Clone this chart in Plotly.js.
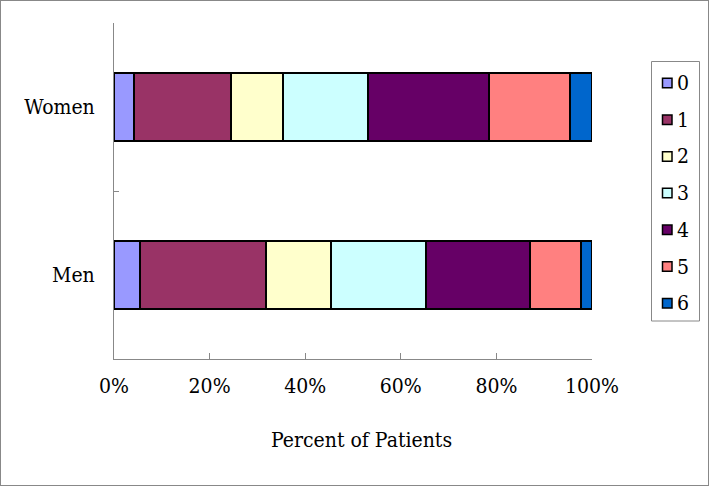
<!DOCTYPE html>
<html>
<head>
<meta charset="utf-8">
<script src="https://cdn.plot.ly/plotly-3.0.1.min.js"></script>
<style>
html,body{margin:0;padding:0;background:#fff;}
#wrap{position:relative;width:710px;height:486px;}
#chart{width:710px;height:486px;}
#frame{position:absolute;left:0;top:0;width:707px;height:484px;border:1px solid #888;pointer-events:none;}
</style>
</head>
<body>
<div id="wrap"><div id="chart"></div><div id="frame"></div></div>
<script>
const groups = ['Men', 'Women'];
const seriesNames = ['0', '1', '2', '3', '4', '5', '6'];
const men   = [5.5, 26.2, 13.7, 19.9, 21.7, 10.8, 2.2];
const women = [4.2, 20.3, 10.9, 17.8, 25.2, 17.1, 4.5];
const colors = ['#9999FF', '#993366', '#FFFFCC', '#CCFFFF', '#660066', '#FF8080', '#0066CC'];
const xTicks = [0, 20, 40, 60, 80, 100];
const xTitle = 'Percent of Patients';

const font = '"DejaVu Serif Condensed", "DejaVu Serif"';
const fs = 21;
const traces = seriesNames.map((name, i) => ({
  type: 'bar',
  orientation: 'h',
  name: name,
  y: groups,
  x: [men[i], women[i]],
  marker: {color: colors[i], line: {color: '#000', width: 2}},
  hoverinfo: 'x+y+name',
  showlegend: false
}));

// plot-area geometry (pixels), used to place the legend box and axis title
const W = 710, H = 486, ML = 114, MR = 118, MT = 23, MB = 127;
const pw = W - ML - MR, ph = H - MT - MB;
const px = v => (v - ML) / pw;
const py = v => (H - MB - v) / ph;

const shapes = [{
  type: 'rect', xref: 'paper', yref: 'paper',
  x0: px(651.5), x1: px(699.5), y0: py(61.5), y1: py(321),
  line: {color: '#888', width: 1}, fillcolor: '#fff', layer: 'above'
}];
const annotations = [{
  xref: 'paper', yref: 'paper', x: px(361.5), y: py(440),
  xanchor: 'center', yanchor: 'middle', showarrow: false,
  text: xTitle, font: {family: font, size: fs, color: '#000'}
}];
seriesNames.forEach((name, i) => {
  const cy = 83 + i * 36.7;
  shapes.push({
    type: 'rect', xref: 'paper', yref: 'paper',
    x0: px(662.5), x1: px(672), y0: py(cy + 4.75), y1: py(cy - 4.75),
    line: {color: '#000', width: 1.5}, fillcolor: colors[i], layer: 'above'
  });
  annotations.push({
    xref: 'paper', yref: 'paper', x: px(675), y: py(cy),
    xanchor: 'left', yanchor: 'middle', showarrow: false,
    text: name, font: {family: font, size: fs, color: '#000'}
  });
});

const layout = {
  width: W, height: H,
  margin: {l: ML, r: MR, t: MT, b: MB, pad: 0},
  paper_bgcolor: '#fff', plot_bgcolor: '#fff',
  barmode: 'stack',
  bargap: 0.595,
  showlegend: false,
  font: {family: font, size: fs, color: '#000'},
  xaxis: {
    range: [0, 100],
    tickvals: xTicks,
    ticktext: xTicks.map(v => v + '%'),
    ticks: 'inside', ticklen: 6, tickcolor: '#888', tickwidth: 1,
    showline: true, linecolor: '#888', linewidth: 1,
    showgrid: false, zeroline: false,
    ticklabelstandoff: 8,
    tickfont: {family: font, size: fs, color: '#000'}
  },
  yaxis: {
    type: 'category',
    categoryorder: 'array', categoryarray: groups,
    ticks: 'inside', ticklen: 5, tickcolor: '#888', tickwidth: 1,
    tickson: 'boundaries',
    showline: true, linecolor: '#888', linewidth: 1,
    showgrid: false, zeroline: false,
    ticklabelstandoff: 14,
    tickfont: {family: font, size: fs, color: '#000'}
  },
  shapes: shapes,
  annotations: annotations
};

Plotly.newPlot('chart', traces, layout, {displayModeBar: false, staticPlot: true});
</script>
</body>
</html>
